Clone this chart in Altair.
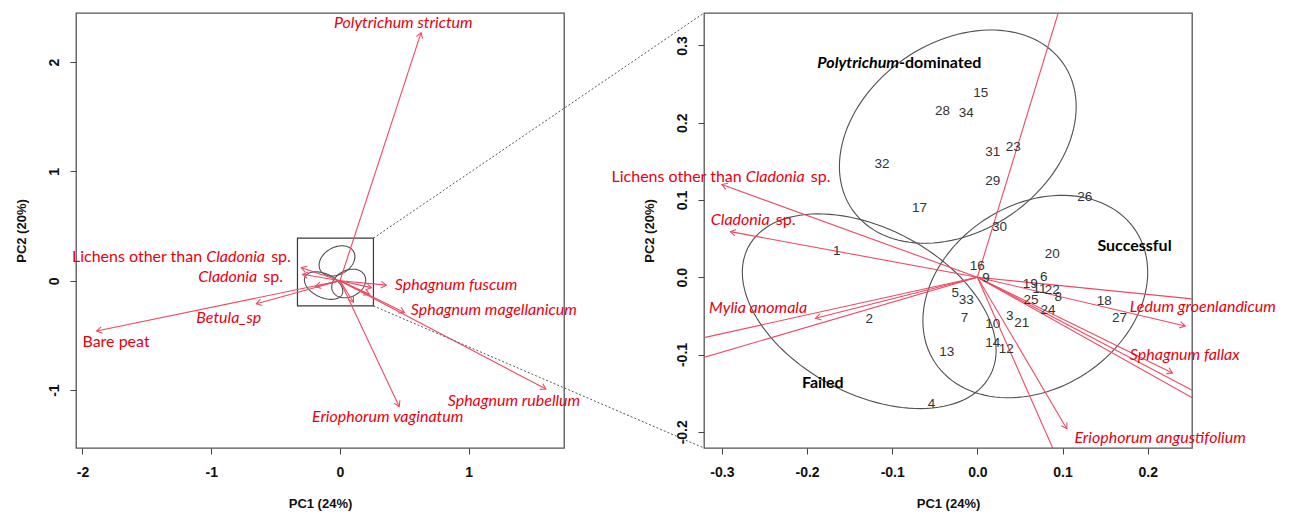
import altair as alt
import numpy as np
import pandas as pd

# ---------------- data ----------------
species = ["Polytrichum strictum", "Lichens other than Cladonia sp.", "Cladonia sp.", "Betula_sp",
           "Bare peat", "Sphagnum fuscum", "Sphagnum magellanicum", "Sphagnum rubellum",
           "Eriophorum vaginatum", "Mylia anomala", "Ledum groenlandicum", "Sphagnum fallax",
           "Eriophorum angustifolium"]
load_pc1 = [0.63, -0.30, -0.29, -0.65, -1.89, 0.36, 0.50, 1.60, 0.46, -0.19, 0.244, 0.229, 0.105]
load_pc2 = [2.27, 0.12, 0.059, -0.21, -0.46, -0.04, -0.29, -0.99, -1.15, -0.053, -0.063, -0.124, -0.196]

site_ids = [str(i) for i in range(1, 35)]
site_pc1 = [-0.165, -0.127, 0.038, -0.054, -0.026, 0.078, -0.015, 0.095, 0.010, 0.018,
            0.073, 0.034, -0.036, 0.018, 0.004, 0.000, -0.068, 0.149, 0.062, 0.088,
            0.052, 0.088, 0.042, 0.083, 0.063, 0.126, 0.167, -0.041, 0.018, 0.026,
            0.018, -0.112, -0.013, -0.013]
site_pc2 = [0.034, -0.054, -0.050, -0.164, -0.020, 0.000, -0.053, -0.026, -0.001, -0.061,
            -0.015, -0.093, -0.097, -0.085, 0.238, 0.015, 0.089, -0.031, -0.009, 0.030,
            -0.059, -0.017, 0.168, -0.042, -0.029, 0.104, -0.053, 0.215, 0.125, 0.065,
            0.162, 0.146, -0.029, 0.213]

groups = ["Polytrichum-dominated", "Failed", "Successful"]
ell_cx = [-0.023, -0.127, 0.068]
ell_cy = [0.182, -0.044, -0.025]
ell_rx = [0.139, 0.149, 0.132]
ell_ry = [0.138, 0.126, 0.131]
ell_rho = [0.28, -0.40, 0.24]

# label anchors (left panel)
l_it_text = ["Polytrichum strictum", "Betula_sp", "Sphagnum fuscum", "Sphagnum magellanicum",
             "Sphagnum rubellum", "Eriophorum vaginatum"]
l_it_x = [-0.047, -1.116, 0.426, 0.55, 0.837, -0.217]
l_it_y = [2.36, -0.34, -0.037, -0.266, -1.10, -1.248]
l_pl_text = ["Bare peat"]
l_pl_x = [-2.0]
l_pl_y = [-0.56]
l_cl_prefix = ["Lichens other than", ""]
l_cl_x = [-1.039, -1.10]
l_cl_y = [0.22, 0.037]

# label anchors (right panel)
r_it_text = ["Mylia anomala", "Ledum groenlandicum", "Sphagnum fallax", "Eriophorum angustifolium"]
r_it_x = [-0.315, 0.179, 0.179, 0.114]
r_it_y = [-0.040, -0.039, -0.101, -0.208]
r_cl_prefix = ["Lichens other than", ""]
r_cl_x = [-0.272, -0.313]
r_cl_y = [0.130, 0.074]

grp_text = ["Failed", "Successful"]
grp_x = [-0.206, 0.141]
grp_y = [-0.137, 0.040]
poly_x = [-0.092]
poly_y = [0.277]

# zoom box drawn on the left panel
box_x = [-0.33, 0.26]
box_y = [-0.23, 0.39]

# ---------------- layout ----------------
W, H = 488, 435
GAP = 140
xL = [-2.05, 1.74]
yL = [-1.53, 2.45]
xR = [-0.321, 0.252]
yR = [-0.221, 0.342]

RED_LINE = "#ec4a62"
RED_TXT = "#e8000f"
GREY = "#505050"
LAB_SIZE = 16
CLAD_W = 61

MINUS = "\u2212"


def xaxis(vals, fmt):
    return alt.Axis(values=vals, format=fmt, labelExpr=f"replace(datum.label, '{MINUS}', '-')",
                    title="PC1 (24%)", grid=False, domain=False, tickSize=6, tickColor="#444",
                    labelFont="Liberation Sans", labelFontSize=14, labelFontWeight="bold",
                    labelColor="#111", labelPadding=11, labelOverlap=False, labelFlush=False,
                    titleFont="Liberation Sans", titleFontSize=13, titleFontWeight="bold",
                    titleColor="#111", titlePadding=18)


def yaxis(vals, fmt):
    return alt.Axis(values=vals, format=fmt, labelExpr=f"replace(datum.label, '{MINUS}', '-')",
                    title="PC2 (20%)", grid=False, domain=False, tickSize=6, tickColor="#444",
                    labelFont="Liberation Sans", labelFontSize=14, labelFontWeight="bold",
                    labelColor="#111", labelPadding=9, labelAngle=270, labelAlign="center",
                    labelBaseline="bottom", labelOverlap=False, labelFlush=False,
                    titleFont="Liberation Sans", titleFontSize=13, titleFontWeight="bold",
                    titleColor="#111", titlePadding=19)


scLx = alt.Scale(domain=xL, nice=False, zero=False)
scLy = alt.Scale(domain=yL, nice=False, zero=False)
scRx = alt.Scale(domain=xR, nice=False, zero=False)
scRy = alt.Scale(domain=yR, nice=False, zero=False)


def XL(f):
    return alt.X(f, type="quantitative", scale=scLx, axis=xaxis([-2, -1, 0, 1], "d"))


def YL(f):
    return alt.Y(f, type="quantitative", scale=scLy, axis=yaxis([-1, 0, 1, 2], "d"))


def XR(f):
    return alt.X(f, type="quantitative", scale=scRx,
                 axis=xaxis([-0.3, -0.2, -0.1, 0.0, 0.1, 0.2], ".1f"))


def YR(f):
    return alt.Y(f, type="quantitative", scale=scRy,
                 axis=yaxis([-0.2, -0.1, 0.0, 0.1, 0.2, 0.3], ".1f"))


# ---------------- derived tables ----------------
kxL, kyL = W / (xL[1] - xL[0]), H / (yL[1] - yL[0])
kxR, kyR = W / (xR[1] - xR[0]), H / (yR[1] - yR[0])
p1, p2 = np.array(load_pc1), np.array(load_pc2)
arrows = pd.DataFrame({
    "name": species, "x0": 0.0, "y0": 0.0, "x": p1, "y": p2,
    "angL": np.degrees(np.arctan2(-p2 * kyL, p1 * kxL)) % 360,
    "angR": np.degrees(np.arctan2(-p2 * kyR, p1 * kxR)) % 360,
})

rows = []
t = np.linspace(0, 2 * np.pi, 121)
for g, cx, cy, rx, ry, rho in zip(groups, ell_cx, ell_cy, ell_rx, ell_ry, ell_rho):
    d = np.arccos(rho)
    for i, tt in enumerate(t):
        rows.append({"g": g, "i": i, "x": cx + rx * np.cos(tt), "y": cy + ry * np.cos(tt - d)})
ell = pd.DataFrame(rows)

sites = pd.DataFrame({"id": site_ids, "x": site_pc1, "y": site_pc2})
box = pd.DataFrame({"x": [box_x[0]], "x2": [box_x[1]], "y": [box_y[0]], "y2": [box_y[1]]})
far_x = xL[1] + GAP / kxL
conn = pd.DataFrame({"x": [box_x[1], box_x[1]], "y": [box_y[1], box_y[0]],
                     "x2": [far_x, far_x], "y2": [yL[1], yL[0]]})

HEAD = "M-1,-0.62L0,0L-1,0.62"


def ellipse_layer(X, Y):
    return alt.Chart(ell).mark_line(color=GREY, strokeWidth=1.1, clip=True).encode(
        x=X("x"), y=Y("y"), detail="g:N", order="i:Q")


def arrow_layers(X, Y, ang):
    lines = alt.Chart(arrows).mark_rule(color=RED_LINE, strokeWidth=1.1, clip=True).encode(
        x=X("x0"), y=Y("y0"), x2="x:Q", y2="y:Q")
    heads = alt.Chart(arrows).mark_point(shape=HEAD, filled=False, color=RED_LINE, size=110,
                                         strokeWidth=1.1, opacity=1, clip=True).encode(
        x=X("x"), y=Y("y"), angle=alt.Angle(f"{ang}:Q", scale=None))
    return [lines, heads]


def text_layer(df, X, Y, field, **kw):
    base = dict(font="Lato", fontSize=LAB_SIZE, color=RED_TXT, baseline="middle")
    base.update(kw)
    return alt.Chart(df).mark_text(**base).encode(x=X("x"), y=Y("y"), text=f"{field}:N")


def cladonia_layers(prefix, xs, ys, X, Y):
    df = pd.DataFrame({"p": prefix, "x": xs, "y": ys, "c": "Cladonia", "s": "sp."})
    pre = text_layer(df[df.p != ""], X, Y, "p", align="right", dx=-4)
    cl = text_layer(df, X, Y, "c", align="left", fontStyle="italic")
    sp = text_layer(df, X, Y, "s", align="left", dx=CLAD_W + 4)
    return [pre, cl, sp]


# ---------------- left panel ----------------
left_layers = [
    alt.Chart(box).mark_rect(fill=None, fillOpacity=0, stroke="#3a3a3a", strokeWidth=1.2).encode(
        x=XL("x"), y=YL("y"), x2="x2:Q", y2="y2:Q"),
    ellipse_layer(XL, YL),
]
left_layers += arrow_layers(XL, YL, "angL")
left_layers += [
    text_layer(pd.DataFrame({"t": l_it_text, "x": l_it_x, "y": l_it_y}), XL, YL, "t",
               align="left", fontStyle="italic"),
    text_layer(pd.DataFrame({"t": l_pl_text, "x": l_pl_x, "y": l_pl_y}), XL, YL, "t", align="left"),
]
left_layers += cladonia_layers(l_cl_prefix, l_cl_x, l_cl_y, XL, YL)
left_layers += [
    alt.Chart(conn).mark_rule(color="#555", strokeDash=[2, 2], strokeWidth=1, clip=False).encode(
        x=XL("x"), y=YL("y"), x2="x2:Q", y2="y2:Q"),
]
left = alt.layer(*left_layers).properties(width=W, height=H)

# ---------------- right panel ----------------
right_layers = [ellipse_layer(XR, YR)]
right_layers += arrow_layers(XR, YR, "angR")
right_layers += [
    alt.Chart(sites).mark_text(font="Liberation Sans", fontSize=13.5, color="#333",
                               baseline="middle").encode(x=XR("x"), y=YR("y"), text="id:N"),
    text_layer(pd.DataFrame({"t": grp_text, "x": grp_x, "y": grp_y}), XR, YR, "t",
               align="left", color="black", fontWeight="bold"),
    text_layer(pd.DataFrame({"t": ["Polytrichum"], "x": poly_x, "y": poly_y}), XR, YR, "t",
               align="right", color="black", fontWeight="bold", fontStyle="italic"),
    text_layer(pd.DataFrame({"t": ["-dominated"], "x": poly_x, "y": poly_y}), XR, YR, "t",
               align="left", color="black", fontWeight="bold"),
    text_layer(pd.DataFrame({"t": r_it_text, "x": r_it_x, "y": r_it_y}), XR, YR, "t",
               align="left", fontStyle="italic"),
]
right_layers += cladonia_layers(r_cl_prefix, r_cl_x, r_cl_y, XR, YR)
right = alt.layer(*right_layers).properties(width=W, height=H)

chart = alt.hconcat(left, right, spacing=GAP, bounds="flush").properties(
    padding={"left": 6, "top": 3, "right": 0, "bottom": 4},
    background="white",
).configure_view(stroke="#555", strokeWidth=1.3)

chart.save("out.html", embed_options={"renderer": "svg", "actions": False})
